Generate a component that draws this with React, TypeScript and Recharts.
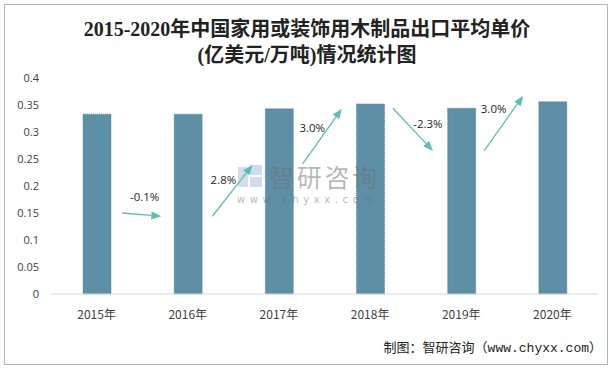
import React from 'react'
import { BarChart, Bar, XAxis, YAxis, ReferenceLine, ScatterChart } from 'recharts'

const years = ['2015年', '2016年', '2017年', '2018年', '2019年', '2020年']
const prices = [0.333, 0.333, 0.343, 0.352, 0.344, 0.356]
const growth = ['-0.1%', '2.8%', '3.0%', '-2.3%', '3.0%']
const yTicks = [0, 0.05, 0.1, 0.15, 0.2, 0.25, 0.3, 0.35, 0.4]

// growth arrows: [position on a 0..6 category scale, price value]
const arrowFrom = [[0.78, 0.15], [1.77, 0.144], [2.76, 0.241], [3.75, 0.344], [4.75, 0.265]]
const arrowTo = [[1.21, 0.144], [2.21, 0.239], [3.19, 0.343], [4.19, 0.265], [5.18, 0.367]]
// label offset from arrow midpoint (px)
const labelShift = [[3, -18], [-9, -11], [-10, -9], [15, -6], [-10, -15]]

const data = years.map((year, i) => ({ year, price: prices[i] }))

const TEAL = '#5cbdb8'
const BAR = '#5d90a7'
const MARGIN = { top: 78, right: 16, bottom: 46, left: 11 }

const Arrow = (props: any) => {
  const { x1, y1, x2, y2, text, shift } = props
  if ([x1, y1, x2, y2].some((v) => typeof v !== 'number')) return null
  const a = Math.atan2(y2 - y1, x2 - x1)
  const len = 10
  const w = 4
  const bx = x2 - len * Math.cos(a)
  const by = y2 - len * Math.sin(a)
  const pts = [
    `${x2},${y2}`,
    `${bx - w * Math.sin(a)},${by + w * Math.cos(a)}`,
    `${bx + w * Math.sin(a)},${by - w * Math.cos(a)}`
  ].join(' ')
  const mx = (x1 + x2) / 2 + shift[0]
  const my = (y1 + y2) / 2 + shift[1]
  return (
    <g>
      <line x1={x1} y1={y1} x2={bx} y2={by} stroke={TEAL} strokeWidth={1.3} />
      <polygon points={pts} fill={TEAL} />
      <text
        x={mx}
        y={my}
        textAnchor="middle"
        dominantBaseline="central"
        fontSize={11.5}
        fill="#262626"
        fontFamily="'Open Sans', 'Noto Sans', sans-serif"
      >
        {text}
      </text>
    </g>
  )
}

export default function App() {
  return (
    <div style={{ position: 'absolute', left: 0, top: 0, width: 614, height: 370, background: '#fff' }}>
      <div
        style={{
          position: 'absolute',
          left: 4,
          top: 4,
          width: 602,
          height: 359,
          border: '1px solid #b4b4b4'
        }}
      />
      <div
        style={{
          position: 'absolute',
          left: 0,
          top: 16,
          width: 614,
          textAlign: 'center',
          fontFamily: "'Liberation Serif', 'Noto Sans CJK SC', serif",
          fontSize: 20,
          fontWeight: 'bold',
          lineHeight: '26px',
          color: '#222'
        }}
      >
        <div>2015-2020年中国家用或装饰用木制品出口平均单价</div>
        <div>(亿美元/万吨)情况统计图</div>
      </div>

      <div style={{ position: 'absolute', left: 0, top: 0 }}>
        <BarChart width={614} height={370} data={data} margin={MARGIN}>
          <XAxis
            dataKey="year"
            axisLine={{ stroke: '#d9d9d9' }}
            tickLine={false}
            tick={{ fontSize: 12, fill: '#404040', fontFamily: "'Noto Sans CJK SC', sans-serif" }}
            tickMargin={10}
            height={30}
          />
          <YAxis
            domain={[0, 0.4]}
            ticks={yTicks}
            axisLine={false}
            tickLine={false}
            tickSize={0}
            tickMargin={12}
            width={40}
            tick={{ fontSize: 11, fill: '#404040', fontFamily: "'Open Sans', sans-serif" }}
          />
          <Bar
            dataKey="price"
            fill={BAR}
            stroke="#4b7d94"
            strokeDasharray="1 1"
            strokeWidth={0.8}
            barSize={28}
            isAnimationActive={false}
          />
        </BarChart>
      </div>

      {/* watermark */}
      <div style={{ position: 'absolute', left: 238, top: 165, width: 24, height: 24, opacity: 0.6 }}>
        <div style={{ position: 'absolute', left: 0, top: 2, width: 10, height: 20, background: '#b8c6de' }} />
        <div style={{ position: 'absolute', left: 12, top: 0, width: 12, height: 10, background: '#a9c8e8' }} />
        <div style={{ position: 'absolute', left: 12, top: 12, width: 12, height: 10, background: '#b8c6de' }} />
      </div>
      <div
        style={{
          position: 'absolute',
          left: 269,
          top: 162,
          fontSize: 25,
          fontFamily: "'Noto Sans CJK SC', sans-serif",
          color: 'rgba(110,110,110,0.5)',
          letterSpacing: 2.7,
          lineHeight: '28px'
        }}
      >
        智研咨询
      </div>
      <div
        style={{
          position: 'absolute',
          left: 237,
          top: 194,
          fontSize: 10,
          fontFamily: "'DejaVu Sans', sans-serif",
          color: 'rgba(110,110,110,0.5)',
          letterSpacing: 4.6,
          lineHeight: '12px'
        }}
      >
        www.chyxx.com
      </div>

      {/* growth arrows, drawn on an overlay sharing the bar chart's plot area */}
      <div style={{ position: 'absolute', left: 0, top: 0, pointerEvents: 'none' }}>
        <ScatterChart width={614} height={370} margin={{ top: 78, right: 16, bottom: 76, left: 51 }}>
          <XAxis type="number" dataKey="x" domain={[0, 6]} allowDataOverflow hide />
          <YAxis type="number" dataKey="y" domain={[0, 0.4]} allowDataOverflow hide />
          {growth.map((g, i) => (
            <ReferenceLine
              key={g + i}
              ifOverflow="visible"
              segment={[
                { x: arrowFrom[i][0], y: arrowFrom[i][1] },
                { x: arrowTo[i][0], y: arrowTo[i][1] }
              ]}
              shape={(p: any) => <Arrow {...p} text={g} shift={labelShift[i]} />}
            />
          ))}
        </ScatterChart>
      </div>

      <div
        style={{
          position: 'absolute',
          right: 12,
          top: 340,
          fontSize: 13,
          fontFamily: "'Liberation Mono', 'Noto Sans CJK SC', monospace",
          color: '#222',
          lineHeight: '18px',
          whiteSpace: 'nowrap'
        }}
      >
        制图：智研咨询（www.chyxx.com）
      </div>
    </div>
  )
}
